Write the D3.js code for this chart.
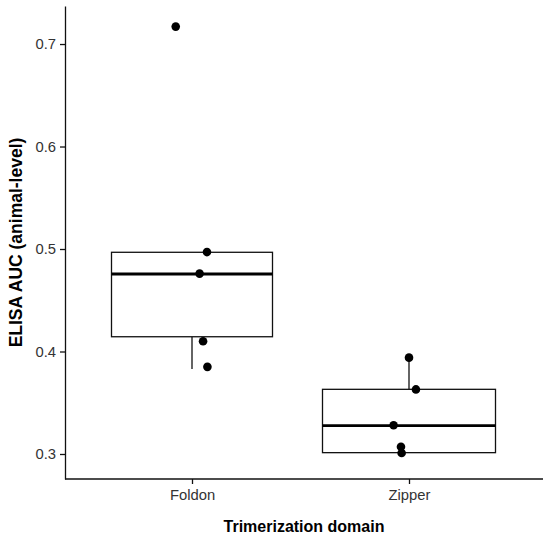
<!DOCTYPE html>
<html>
<head>
<meta charset="utf-8">
<script src="https://cdn.jsdelivr.net/npm/d3@7"></script>
<style>
  html, body { margin: 0; padding: 0; background: #fff; }
  svg { display: block; font-family: "Liberation Sans", Arial, Helvetica, sans-serif; }
</style>
</head>
<body>
<svg id="chart" width="550" height="538"></svg>
<script>
// ---- data ----
const categories = ["Foldon", "Zipper"];
const foldonValues = [0.717, 0.497, 0.476, 0.410, 0.385];
const zipperValues = [0.394, 0.363, 0.328, 0.307, 0.301];
// horizontal jitter (fraction of category spacing)
const foldonJitter = [-0.075, 0.069, 0.035, 0.051, 0.071];
const zipperJitter = [0.000, 0.032, -0.071, -0.037, -0.034];
// box statistics per category
const whiskerLow  = [0.383, 0.301];
const boxQ1       = [0.4144, 0.3013];
const boxMedian   = [0.4756, 0.3276];
const boxQ3       = [0.4968, 0.3631];
const whiskerHigh = [0.4968, 0.394];
const yTicks = [0.3, 0.4, 0.5, 0.6, 0.7];

// ---- layout ----
const svg = d3.select("#chart");
const panel = { left: 65, right: 543, top: 6, bottom: 479 };
const boxWidths = [161, 173];

const y = d3.scaleLinear().domain([0.2756, 0.7371]).range([panel.bottom, panel.top]);
const x = d3.scalePoint().domain(categories).range([192, 409]);
const step = x(categories[1]) - x(categories[0]);

const ink = "#111";

// boxes
const boxes = categories.map((c, i) => ({
  cat: c, lo: whiskerLow[i], q1: boxQ1[i], med: boxMedian[i], q3: boxQ3[i], hi: whiskerHigh[i], w: boxWidths[i]
}));
const g = svg.append("g");
boxes.forEach(b => {
  const cx = x(b.cat);
  if (b.hi > b.q3) g.append("line").attr("x1", cx).attr("x2", cx).attr("y1", y(b.q3)).attr("y2", y(b.hi))
    .attr("stroke", ink).attr("stroke-width", 1.3);
  if (b.lo < b.q1) g.append("line").attr("x1", cx).attr("x2", cx).attr("y1", y(b.q1)).attr("y2", y(b.lo))
    .attr("stroke", ink).attr("stroke-width", 1.3);
  g.append("rect").attr("x", cx - b.w / 2).attr("width", b.w)
    .attr("y", y(b.q3)).attr("height", y(b.q1) - y(b.q3))
    .attr("fill", "#fff").attr("stroke", ink).attr("stroke-width", 1.3);
  g.append("line").attr("x1", cx - b.w / 2).attr("x2", cx + b.w / 2)
    .attr("y1", y(b.med)).attr("y2", y(b.med))
    .attr("stroke", "#000").attr("stroke-width", 2.8);
});

// points
const pts = [];
foldonValues.forEach((v, i) => pts.push({ cat: "Foldon", v, j: foldonJitter[i] }));
zipperValues.forEach((v, i) => pts.push({ cat: "Zipper", v, j: zipperJitter[i] }));
g.selectAll("circle.pt").data(pts).join("circle").attr("class", "pt")
  .attr("cx", d => x(d.cat) + d.j * step)
  .attr("cy", d => y(d.v))
  .attr("r", 4.3)
  .attr("fill", "#000");

// y axis
const yAxis = svg.append("g").attr("transform", `translate(${panel.left},0)`)
  .call(d3.axisLeft(y).tickValues(yTicks).tickFormat(d3.format(".1f")).tickSize(5).tickSizeOuter(0).tickPadding(4));
yAxis.select(".domain").attr("stroke", ink).attr("stroke-width", 1.3);
yAxis.selectAll(".tick line").attr("stroke", ink).attr("stroke-width", 1.3);
yAxis.selectAll(".tick text").attr("font-size", 14.8).attr("fill", "#333")
  .attr("font-family", "'Liberation Sans', Arial, sans-serif");

// x axis
const xAxis = svg.append("g").attr("transform", `translate(0,${panel.bottom})`)
  .call(d3.axisBottom(x).tickSize(5).tickSizeOuter(0).tickPadding(5));
xAxis.select(".domain").remove();
xAxis.append("line").attr("x1", panel.left).attr("x2", panel.right).attr("y1", 0).attr("y2", 0)
  .attr("stroke", ink).attr("stroke-width", 1.3);
xAxis.selectAll(".tick line").attr("stroke", ink).attr("stroke-width", 1.3);
xAxis.selectAll(".tick text").attr("font-size", 14.8).attr("fill", "#333")
  .attr("font-family", "'Liberation Sans', Arial, sans-serif");

// axis titles
svg.append("text").attr("x", (panel.left + panel.right) / 2).attr("y", 531.5)
  .attr("text-anchor", "middle").attr("font-size", 16).attr("font-weight", "bold").attr("fill", "#000")
  .text("Trimerization domain");
svg.append("text").attr("transform", `translate(22,${(panel.top + panel.bottom) / 2}) rotate(-90)`)
  .attr("text-anchor", "middle").attr("font-size", 17.5).attr("font-weight", "bold").attr("fill", "#000")
  .text("ELISA AUC (animal-level)");
</script>
</body>
</html>
